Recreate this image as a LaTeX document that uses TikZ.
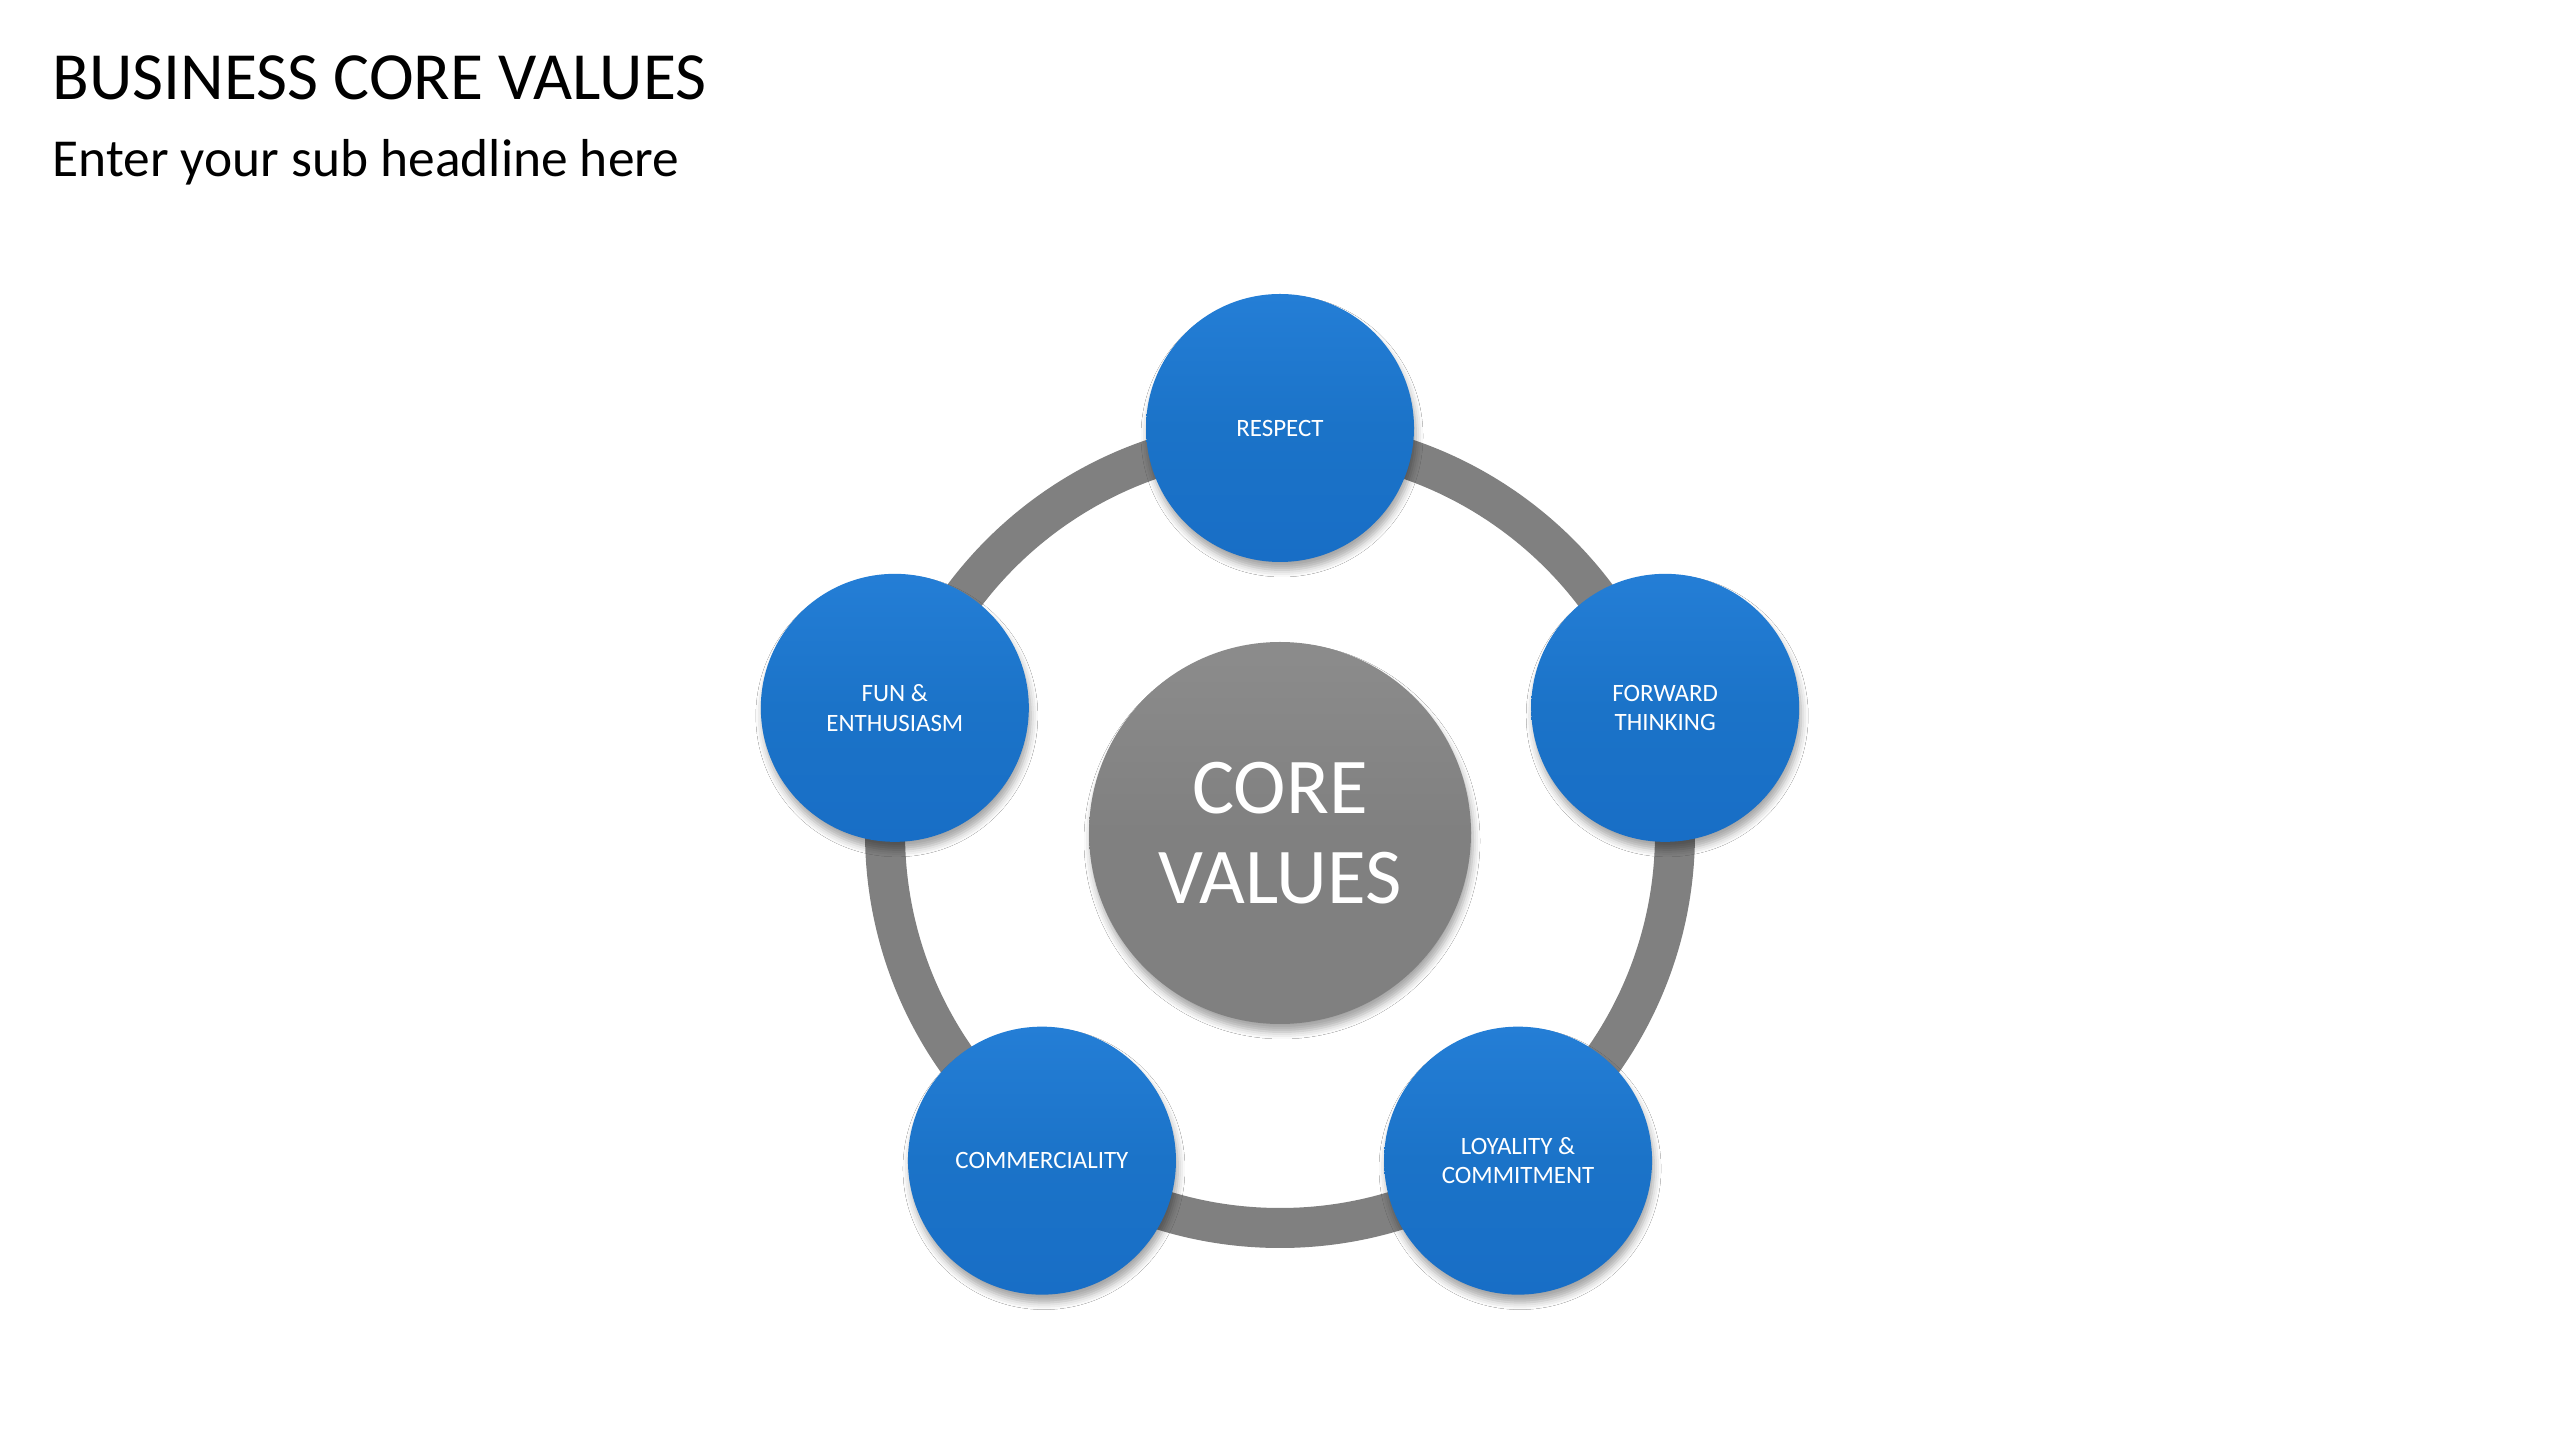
\documentclass[tikz,border=0pt]{standalone}
\usepackage{fontspec}
\setmainfont{Carlito}
\usetikzlibrary{positioning,shadows.blur}
\definecolor{valueblue}{RGB}{27,115,200}
\definecolor{valuetop}{RGB}{36,126,214}
\definecolor{valuebottom}{RGB}{24,110,198}
\definecolor{coregray}{RGB}{128,128,128}
\definecolor{coretop}{RGB}{140,140,140}
\definecolor{ringgray}{RGB}{128,128,128}

\begin{document}
\begin{tikzpicture}[every node/.style={align=center,inner sep=0pt},
  value/.style={circle,minimum size=2.68cm,text=white,top color=valuetop,bottom color=valuebottom,middle color=valueblue,
    blur shadow={shadow xshift=0.02cm,shadow yshift=-0.08cm,shadow blur radius=0.07cm,shadow opacity=35},
    font=\fontsize{7.1}{8.4}\selectfont},
  core/.style={circle,minimum size=3.82cm,text=white,top color=coretop,bottom color=coregray,middle color=coregray,
    blur shadow={shadow xshift=0.02cm,shadow yshift=-0.08cm,shadow blur radius=0.07cm,shadow opacity=35},
    font=\fontsize{22.5}{25.5}\selectfont},
  ring/.style={draw=ringgray,line width=0.40cm}]
  \fill[white] (0,0) rectangle (25.6,14.4);
  \useasboundingbox (0,0) rectangle (25.6,14.4);
  \node[anchor=base west,font=\fontsize{19.2}{22}\selectfont] (title) at (0.52,13.40) {BUSINESS CORE VALUES};
  \node[anchor=base west,font=\fontsize{15.2}{18}\selectfont] (subtitle) at (0.52,12.63) {Enter your sub headline here};
  \coordinate (hub) at (12.80,6.07);
  \draw[ring] (hub) circle (3.95);
  \node[core] (core) at (hub) {CORE\\VALUES};
  \node[value] (respect) at ([shift={(90:4.05)}]hub) {RESPECT};
  \node[value] (forward) at ([shift={(18:4.05)}]hub) {FORWARD\\THINKING};
  \node[value] (loyalty) at ([shift={(-54:4.05)}]hub) {LOYALITY \&\\COMMITMENT};
  \node[value] (commerce) at ([shift={(234:4.05)}]hub) {COMMERCIALITY};
  \node[value] (fun) at ([shift={(162:4.05)}]hub) {FUN \&\\ENTHUSIASM};
\end{tikzpicture}
\end{document}
